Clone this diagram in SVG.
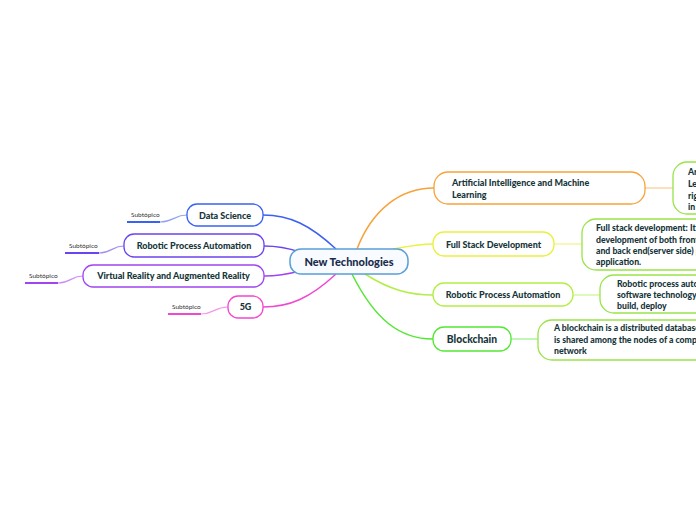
<svg xmlns="http://www.w3.org/2000/svg" width="696" height="520" viewBox="0 0 696 520">
<style>
.t{font-family:Lato,"Open Sans",sans-serif;font-weight:900;fill:#17363a}
.n{font-size:9px}
.c{font-size:8.7px}
.s{font-family:Lato,"Open Sans",sans-serif;font-size:6.5px;fill:#333}
.box{fill:#fff;stroke-width:1.3}
.child{fill:#fff;stroke:#98e448;stroke-width:1.3}
.con{fill:none;stroke-width:1.5}
.sub{fill:none;stroke-width:1.2}
</style>
<rect width="696" height="520" fill="#fff"/>
<g id="connectors">
<path class="con" stroke="#f7a23a" d="M357,249 C372,210 400,188 434,188"/>
<path class="con" stroke="#eaf040" d="M393,249 C410,246 420,244 433,244"/>
<path class="con" stroke="#b2ee46" d="M365,274 C390,290 410,295 433,295"/>
<path class="con" stroke="#52e832" d="M352,274 C375,320 400,339 433,339"/>
<path class="con" stroke="#3a62f2" d="M336,249 C310,225 290,215 263,215"/>
<path class="con" stroke="#6a44f0" d="M300,252 C285,247 275,246 264,246"/>
<path class="con" stroke="#a044f0" d="M300,271 C285,275 275,276 264,276"/>
<path class="con" stroke="#f048d0" d="M336,274 C310,298 290,307 263,307"/>
<path class="con" stroke="#fcd6a4" d="M645,188 L673,188"/>
<path class="con" stroke="#f4f6a0" d="M554,244 L582,244"/>
<path class="con" stroke="#d4f6a6" d="M573,295 L600,295"/>
<path class="con" stroke="#b0f2a0" d="M511,339 L538,339"/>
<path class="sub" stroke="#8fa4f6" d="M160,222 C174,222 174,215 187,215"/>
<path class="sub" stroke="#a690f4" d="M99,253 C112,253 112,246 124,246"/>
<path class="sub" stroke="#cc90f4" d="M58,283 C71,283 71,276 83,276"/>
<path class="sub" stroke="#f49ae4" d="M201,314 C214,314 214,307 228,307"/>
</g>
<g id="center">
<rect x="290" y="249" width="118" height="25" rx="11" fill="#f8fbff" stroke="#5a9fd6" stroke-width="1.5"/>
<text class="t" x="349" y="265.5" font-size="11" text-anchor="middle" style="fill:#1a2b4c">New Technologies</text>
</g>
<g id="ai">
<rect class="box" stroke="#f7a23a" x="434" y="172" width="211" height="32" rx="14"/>
<text class="t n" x="452" y="186">Artificial Intelligence and Machine</text>
<text class="t n" x="452" y="197.5">Learning</text>
</g>
<g id="ai-child">
<rect class="child" x="673" y="162" width="140" height="52" rx="14"/>
<text class="t c" x="688" y="175">Artificial Intelligence and Machine</text>
<text class="t c" x="688" y="187">Learning are the technologies</text>
<text class="t c" x="688" y="199">right now which are trending</text>
<text class="t c" x="688" y="210">in the industry</text>
</g>
<g id="fullstack">
<rect class="box" stroke="#eaf040" x="433" y="232" width="121" height="24" rx="11"/>
<text class="t n" x="493.5" y="247.5" text-anchor="middle">Full Stack Development</text>
</g>
<g id="fullstack-child">
<rect class="child" x="582" y="219" width="200" height="51" rx="14"/>
<text class="t c" x="596" y="231">Full stack development: It refers to the</text>
<text class="t c" x="596" y="243">development of both front end(client side)</text>
<text class="t c" x="596" y="254">and back end(server side) portions of web</text>
<text class="t c" x="596" y="265">application.</text>
</g>
<g id="rpa-right">
<rect class="box" stroke="#b2ee46" x="433" y="283" width="140" height="23" rx="11"/>
<text class="t n" x="503" y="298" text-anchor="middle">Robotic Process Automation</text>
</g>
<g id="rpa-right-child">
<rect class="child" x="600" y="275" width="200" height="38" rx="14"/>
<text class="t c" x="617" y="287">Robotic process automation is a</text>
<text class="t c" x="617" y="298">software technology that makes it easy to</text>
<text class="t c" x="617" y="309">build, deploy</text>
</g>
<g id="blockchain">
<rect class="box" stroke="#52e832" x="433" y="327" width="78" height="24" rx="11"/>
<text class="t" x="472" y="342.5" font-size="10.3" text-anchor="middle">Blockchain</text>
</g>
<g id="blockchain-child">
<rect class="child" x="538" y="320" width="220" height="40" rx="14"/>
<text class="t c" x="554" y="331">A blockchain is a distributed database that</text>
<text class="t c" x="554" y="343">is shared among the nodes of a computer</text>
<text class="t c" x="554" y="354">network</text>
</g>
<g id="data-science">
<rect class="box" stroke="#3a62f2" x="187" y="204" width="76" height="22" rx="10"/>
<text class="t n" x="225" y="218.5" text-anchor="middle">Data Science</text>
</g>
<g id="data-science-sub">
<text class="s" x="131" y="217">Subtópico</text>
<line x1="127" y1="222" x2="160" y2="222" stroke="#3a62f2" stroke-width="2"/>
</g>
<g id="rpa-left">
<rect class="box" stroke="#6a44f0" x="124" y="234" width="140" height="23" rx="10"/>
<text class="t n" x="194" y="249" text-anchor="middle">Robotic Process Automation</text>
</g>
<g id="rpa-left-sub">
<text class="s" x="69" y="248">Subtópico</text>
<line x1="65" y1="253" x2="99" y2="253" stroke="#6a44f0" stroke-width="2"/>
</g>
<g id="vr-ar">
<rect class="box" stroke="#a044f0" x="83" y="265" width="181" height="22" rx="10"/>
<text class="t n" x="173.5" y="279" text-anchor="middle">Virtual Reality and Augmented Reality</text>
</g>
<g id="vr-ar-sub">
<text class="s" x="29" y="278">Subtópico</text>
<line x1="25" y1="283" x2="58" y2="283" stroke="#a044f0" stroke-width="2"/>
</g>
<g id="g5">
<rect class="box" stroke="#f048d0" x="228" y="296" width="35" height="22" rx="10"/>
<text class="t n" x="245.5" y="310" text-anchor="middle">5G</text>
</g>
<g id="g5-sub">
<text class="s" x="172" y="309">Subtópico</text>
<line x1="168" y1="314" x2="201" y2="314" stroke="#f048d0" stroke-width="2"/>
</g>
</svg>
